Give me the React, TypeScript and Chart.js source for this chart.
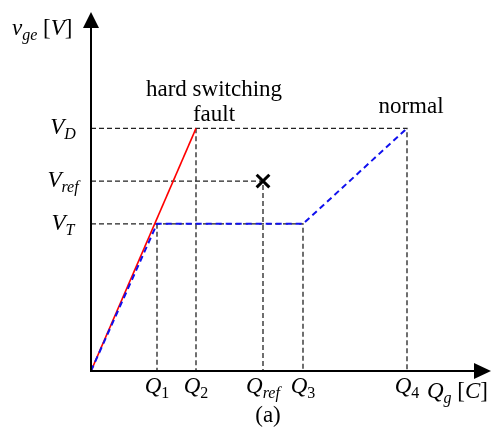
import React, { useEffect, useRef } from "react";
import { Chart, registerables } from "chart.js";

Chart.register(...registerables);

// Charge levels (x) and voltage levels (y), in arbitrary units
const qLabels = ["Q1", "Q2", "Qref", "Q3", "Q4"];
const qValues = [0.66, 1.05, 1.72, 2.12, 3.16];
const vLabels = ["VD", "Vref", "VT"];
const vValues = [2.44, 1.91, 1.48];
const xMax = 4.0;
const yMax = 3.61;

// Curves
const faultX = [0, 1.05];
const faultY = [0, 2.44];
const normalX = [0, 0.66, 2.12, 3.16];
const normalY = [0, 1.48, 1.48, 2.44];
const markX = [1.72];
const markY = [1.91];

type Part = { t: string; italic?: boolean; sub?: boolean };

const FONT = '"Liberation Serif", "Times New Roman", serif';
const MAIN = 23;
const SUB = 16;

function fontOf(p: Part, size = MAIN) {
  const s = p.sub ? SUB : size;
  return `${p.italic ? "italic " : ""}${s}px ${FONT}`;
}

function drawRich(ctx: CanvasRenderingContext2D, x: number, y: number, parts: Part[], align: "left" | "center" | "right" = "left", size = MAIN) {
  ctx.save();
  ctx.textBaseline = "alphabetic";
  ctx.textAlign = "left";
  let w = 0;
  for (const p of parts) {
    ctx.font = fontOf(p, size);
    w += ctx.measureText(p.t).width;
  }
  let cx = align === "left" ? x : align === "center" ? x - w / 2 : x - w;
  ctx.fillStyle = "#000";
  for (const p of parts) {
    ctx.font = fontOf(p, size);
    ctx.fillText(p.t, cx, p.sub ? y + 5 : y);
    cx += ctx.measureText(p.t).width;
  }
  ctx.restore();
}

function labelParts(s: string): Part[] {
  const head = s[0];
  const rest = s.slice(1);
  const isDigit = /^\d+$/.test(rest);
  return [
    { t: head, italic: true },
    { t: rest, italic: !isDigit, sub: true },
  ];
}

const annotPlugin = {
  id: "annot",
  afterDraw(chart: any) {
    const ctx: CanvasRenderingContext2D = chart.ctx;
    const xs = chart.scales.x;
    const ys = chart.scales.y;
    const x0 = xs.getPixelForValue(0);
    const y0 = ys.getPixelForValue(0);
    const xEnd = xs.getPixelForValue(xMax);
    const yTop = ys.getPixelForValue(yMax);

    ctx.save();
    ctx.strokeStyle = "#000";
    ctx.fillStyle = "#000";
    ctx.lineWidth = 2;
    ctx.setLineDash([]);
    // y axis
    ctx.beginPath();
    ctx.moveTo(x0, y0 + 1);
    ctx.lineTo(x0, yTop + 10);
    ctx.stroke();
    ctx.beginPath();
    ctx.moveTo(x0, yTop);
    ctx.lineTo(x0 - 8, yTop + 16);
    ctx.lineTo(x0 + 8, yTop + 16);
    ctx.closePath();
    ctx.fill();
    // x axis
    ctx.beginPath();
    ctx.moveTo(x0 - 1, y0);
    ctx.lineTo(xEnd - 10, y0);
    ctx.stroke();
    ctx.beginPath();
    ctx.moveTo(xEnd, y0);
    ctx.lineTo(xEnd - 17, y0 - 8);
    ctx.lineTo(xEnd - 17, y0 + 8);
    ctx.closePath();
    ctx.fill();
    ctx.restore();

    // tick labels
    qLabels.forEach((l, i) => {
      drawRich(ctx, xs.getPixelForValue(qValues[i]), y0 + 22, labelParts(l), "center");
    });
    vLabels.forEach((l, i) => {
      drawRich(ctx, 63, ys.getPixelForValue(vValues[i]) + 6, labelParts(l), "center");
    });

    // axis titles
    drawRich(ctx, 12, yTop + 23, [
      { t: "v", italic: true },
      { t: "ge", italic: true, sub: true },
      { t: " [" },
      { t: "V", italic: true },
      { t: "]" },
    ]);
    drawRich(ctx, 427, y0 + 27, [
      { t: "Q", italic: true },
      { t: "g", italic: true, sub: true },
      { t: " [" },
      { t: "C", italic: true },
      { t: "]" },
    ]);

    // annotations
    const q2 = xs.getPixelForValue(qValues[1]);
    const q4 = xs.getPixelForValue(qValues[4]);
    const vd = ys.getPixelForValue(vValues[0]);
    drawRich(ctx, q2 + 18, vd - 32, [{ t: "hard switching" }], "center");
    drawRich(ctx, q2 + 18, vd - 7, [{ t: "fault" }], "center");
    drawRich(ctx, q4 + 4, vd - 15, [{ t: "normal" }], "center");
    drawRich(ctx, 268, 422, [{ t: "(a)" }], "center");
  },
};

function guide(q: number, v: number, qFrom: number) {
  return {
    data: [
      { x: 0, y: v },
      { x: q, y: v },
      { x: q, y: qFrom },
    ],
    borderColor: "#222",
    borderWidth: 1.3,
    borderDash: [5, 3],
    pointRadius: 0,
    order: 5,
  };
}

export default function App() {
  const ref = useRef<HTMLCanvasElement>(null);
  useEffect(() => {
    document.body.style.margin = "0";
    const canvas = ref.current!;
    const guides = [
      guide(qValues[4], vValues[0], 0), // VD -> Q4
      { ...guide(qValues[1], vValues[0], 0), data: [{ x: qValues[1], y: vValues[0] }, { x: qValues[1], y: 0 }] }, // Q2
      guide(qValues[2], vValues[1], 0), // Vref -> Qref
      guide(qValues[3], vValues[2], 0), // VT -> Q3
      { ...guide(qValues[0], vValues[2], 0), data: [{ x: qValues[0], y: vValues[2] }, { x: qValues[0], y: 0 }] }, // Q1
    ];
    const chart = new Chart(canvas, {
      type: "line",
      data: {
        datasets: [
          ...guides,
          {
            data: faultX.map((x, i) => ({ x, y: faultY[i] })),
            borderColor: "#ff0000",
            borderWidth: 1.6,
            pointRadius: 0,
            order: 2,
          },
          {
            data: normalX.map((x, i) => ({ x, y: normalY[i] })),
            borderColor: "#1010ee",
            borderWidth: 2,
            borderDash: [6, 4],
            pointRadius: 0,
            order: 1,
          },
          {
            data: markX.map((x, i) => ({ x, y: markY[i] })),
            showLine: false,
            pointStyle: "crossRot",
            pointRadius: 9,
            borderColor: "#000",
            borderWidth: 3,
            order: 0,
          },
        ] as any,
      },
      options: {
        animation: false,
        responsive: false,
        layout: { padding: { left: 91, right: 12, top: 10, bottom: 59 } },
        plugins: { legend: { display: false }, tooltip: { enabled: false } },
        scales: {
          x: { type: "linear", min: 0, max: xMax, display: false },
          y: { type: "linear", min: 0, max: yMax, display: false },
        },
      },
      plugins: [annotPlugin],
    });
    return () => chart.destroy();
  }, []);
  return (
    <div style={{ width: 503, height: 430 }}>
      <canvas ref={ref} width={503} height={430} />
    </div>
  );
}
